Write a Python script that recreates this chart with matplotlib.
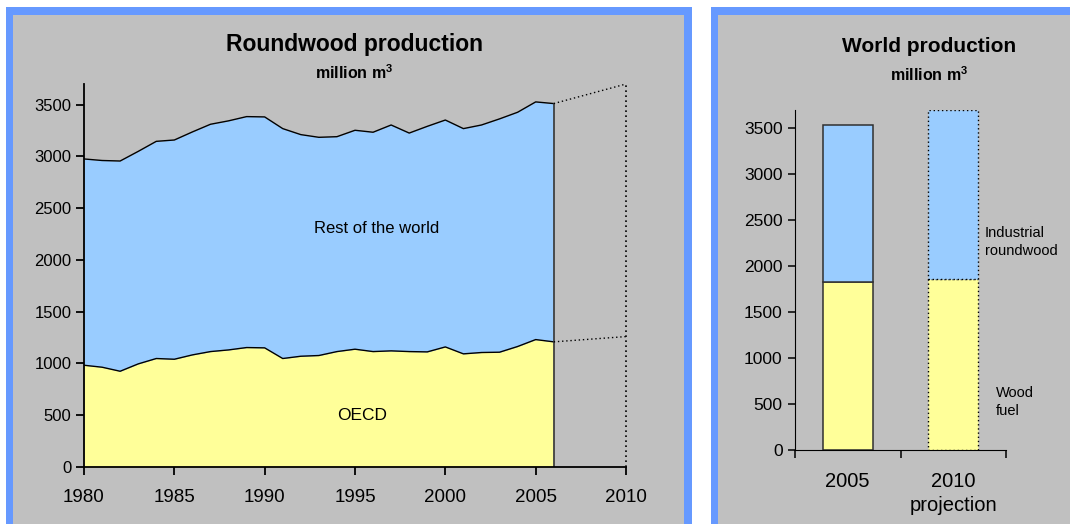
import matplotlib.pyplot as plt
from matplotlib.patches import Rectangle

plt.rcParams['font.family'] = ['Liberation Sans', 'DejaVu Sans']
plt.rcParams['mathtext.fontset'] = 'custom'
plt.rcParams['mathtext.bf'] = 'Liberation Sans:bold'
plt.rcParams['mathtext.rm'] = 'Liberation Sans'

# Roundwood production, million m3
years = list(range(1980, 2007))
oecd = [983, 964, 925, 996, 1048, 1041, 1083, 1115, 1131, 1154, 1151, 1048, 1070,
        1077, 1115, 1138, 1115, 1122, 1115, 1112, 1160, 1093, 1106, 1109, 1164, 1231, 1209]
total = [2976, 2961, 2956, 3049, 3146, 3159, 3237, 3311, 3344, 3385, 3382, 3269, 3211,
         3185, 3191, 3253, 3234, 3304, 3226, 3291, 3352, 3269, 3304, 3363, 3427, 3527, 3511]
proj_year = 2010
proj_oecd = 1260
proj_total = 3700

# World production bars
bar_labels = ['2005', '2010\nprojection']
wood_fuel = [1829, 1862]
industrial_top = [3535, 3705]

BLUE = '#99CCFF'
YELLOW = '#FFFF99'
GRAY = '#C0C0C0'
FRAME = '#6699FF'

W, H = 1070, 524
fig = plt.figure(figsize=(W / 100, H / 100), dpi=100)


def px(x, y):
    return x / W, 1 - y / H


def panel(x0, y0, x1, y1):
    fx, fy = px(x0, y1)
    fig.patches.append(Rectangle((fx, fy), (x1 - x0) / W, (y1 - y0) / H,
                                 transform=fig.transFigure, facecolor=FRAME,
                                 edgecolor='none', zorder=-2))
    fx, fy = px(x0 + 7, y1)
    fig.patches.append(Rectangle((fx, fy), (x1 - x0 - 15) / W, (y1 - y0 - 8) / H,
                                 transform=fig.transFigure, facecolor=GRAY,
                                 edgecolor='none', zorder=-1))


panel(6, 7, 692, 560)
panel(711, 7, 1100, 560)

# ---- left chart ----
ax = fig.add_axes([84 / W, 57 / H, 542 / W, 383 / H])
ax.patch.set_visible(False)
ax.fill_between(years, 0, oecd, color=YELLOW, lw=0)
ax.fill_between(years, oecd, total, color=BLUE, lw=0)
ax.plot(years, oecd, color='black', lw=1)
ax.plot(years, total, color='black', lw=1)
ax.plot([years[-1], years[-1]], [0, total[-1]], color='#404040', lw=1.3)
ax.plot([years[-1], proj_year], [total[-1], proj_total], color='black', lw=1, ls=(0, (1, 2)))
ax.plot([years[-1], proj_year], [oecd[-1], proj_oecd], color='black', lw=1, ls=(0, (1, 2)))
ax.plot([proj_year, proj_year], [0, proj_total], color='black', lw=1.2, ls=(0, (1, 2)),
        clip_on=False)
ax.set_xlim(1980, 2010)
ax.set_ylim(0, 3700)
ax.set_xticks(range(1980, 2011, 5))
ax.set_yticks(range(0, 3501, 500))
ax.tick_params(axis='x', labelsize=13.5, length=6, width=1.3, pad=10)
ax.tick_params(axis='y', labelsize=12, length=6, width=1.3, pad=3)
for s in ['top', 'right']:
    ax.spines[s].set_visible(False)
for s in ['left', 'bottom']:
    ax.spines[s].set_linewidth(1.3)
ax.text(1996.2, 2300, 'Rest of the world', ha='center', va='center', fontsize=12)
ax.text(1995.4, 493, 'OECD', ha='center', va='center', fontsize=12.5)

fig.text(*px(355, 44), 'Roundwood production', ha='center', va='center',
         fontsize=16.5, fontweight='bold')
fig.text(*px(354, 73), r'million m$^\mathbf{3}$', ha='center', va='center',
         fontsize=11.5, fontweight='bold')

# ---- right chart ----
bx = fig.add_axes([795 / W, 74 / H, 211 / W, 340 / H])
bx.patch.set_visible(False)
xs = [0, 1]
top_part = [t - w for t, w in zip(industrial_top, wood_fuel)]
bx.bar(xs[0], wood_fuel[0], width=0.475, color=YELLOW, edgecolor='#303030', lw=1.1)
bx.bar(xs[0], top_part[0], bottom=wood_fuel[0], width=0.475, color=BLUE, edgecolor='#303030', lw=1.1)
bx.bar(xs[1], wood_fuel[1], width=0.475, color=YELLOW, edgecolor='black', lw=1, ls=(0, (1, 2)))
bx.bar(xs[1], top_part[1], bottom=wood_fuel[1], width=0.475, color=BLUE, edgecolor='black', lw=1, ls=(0, (1, 2)))
bx.set_xlim(-0.5, 1.5)
bx.set_ylim(0, 3700)
bx.set_xticks([-0.5, 0.5, 1.5])
bx.set_xticklabels([])
bx.set_xticks(xs, bar_labels, minor=True)
bx.tick_params(axis='x', which='major', length=6, width=1.1)
bx.tick_params(axis='x', which='minor', length=0, labelsize=14.5, pad=16)
bx.set_yticks(range(0, 3501, 500))
bx.tick_params(axis='y', labelsize=12.5, length=5, width=1.1, pad=4)
for s in ['top', 'right']:
    bx.spines[s].set_visible(False)
for lab in bx.get_xticklabels(minor=True):
    lab.set_linespacing(1.3)

fig.text(*px(929, 46), 'World production', ha='center', va='center',
         fontsize=15, fontweight='bold')
fig.text(*px(929, 75), r'million m$^\mathbf{3}$', ha='center', va='center',
         fontsize=11.5, fontweight='bold')
fig.text(*px(985, 242), 'Industrial\nroundwood', ha='left', va='center', fontsize=10.5,
         linespacing=1.45)
fig.text(*px(996, 402), 'Wood\nfuel', ha='left', va='center', fontsize=10.5,
         linespacing=1.45)

fig.savefig('out.png', dpi=100, facecolor='white')
